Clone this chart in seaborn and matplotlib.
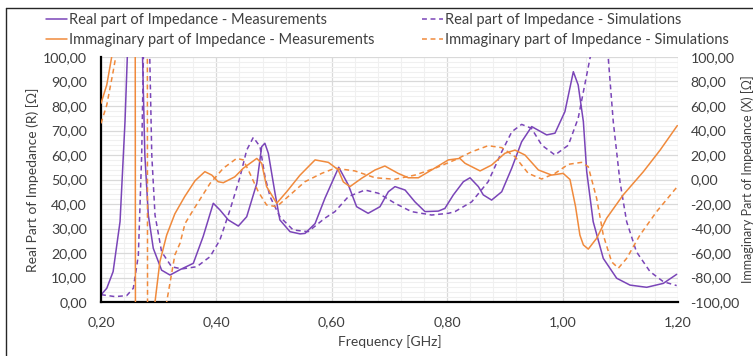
import matplotlib
matplotlib.use("Agg")
import matplotlib.pyplot as plt
from matplotlib.lines import Line2D
from matplotlib.ticker import FuncFormatter, MultipleLocator
import seaborn as sns
import pandas as pd

# ---------------- data ----------------
freq_real_meas = [0.200, 0.210, 0.221, 0.233, 0.2416, 0.2456, 0.250, 0.258, 0.266, 0.272,
                  0.276, 0.282, 0.2906, 0.305, 0.3196, 0.337, 0.360, 0.377, 0.3946, 0.406,
                  0.4206, 0.438, 0.4525, 0.470, 0.4785, 0.484, 0.490, 0.5016, 0.510, 0.5276,
                  0.545, 0.5536, 0.571, 0.588, 0.612, 0.6286, 0.643, 0.663, 0.6835, 0.698,
                  0.7095, 0.727, 0.744, 0.7615, 0.7846, 0.796, 0.8106, 0.828, 0.8395, 0.854,
                  0.8626, 0.877, 0.8945, 0.9118, 0.929, 0.9464, 0.9724, 0.9868, 1.004, 1.0186,
                  1.027, 1.036, 1.0418, 1.053, 1.0705, 1.0937, 1.1168, 1.1457, 1.1745, 1.1977]
real_meas = [2.9, 5.6, 12.4, 32.8, 73.6, 100, 150, 250, 150, 100,
             60, 35.5, 21.9, 13, 11, 13.2, 15.8, 26.7, 40.3, 37.6,
             33.5, 31, 34.8, 48.4, 63.4, 64.8, 60.7, 44.4, 33.5, 28.7,
             27.8, 28, 32, 42.3, 55, 47.8, 38.9, 36.2, 38.9, 45,
             47.1, 45.7, 40.9, 36.9, 37.1, 38.2, 43.7, 49.1, 50.7, 47.1,
             43.7, 41.6, 45, 54.6, 65.4, 71.6, 68.2, 68.9, 77.7, 94,
             88.6, 73.6, 53.2, 32.8, 17.8, 9.7, 6.9, 6, 7.6, 11.3]

freq_real_sim = [0.200, 0.2243, 0.2445, 0.256, 0.2647, 0.2705, 0.2735, 0.279, 0.2845, 0.288,
                 0.2936, 0.305, 0.3223, 0.340, 0.366, 0.389, 0.406, 0.4236, 0.441, 0.4525,
                 0.464, 0.4756, 0.4842, 0.493, 0.510, 0.533, 0.559, 0.588, 0.6055, 0.6286,
                 0.6575, 0.6806, 0.7095, 0.738, 0.773, 0.802, 0.8135, 0.8425, 0.871, 0.8945,
                 0.912, 0.929, 0.946, 0.964, 0.9868, 1.0099, 1.027, 1.036, 1.0475, 1.063,
                 1.079, 1.0878, 1.0995, 1.111, 1.128, 1.1515, 1.1745, 1.1977]
real_sim = [3, 2.2, 2.6, 5.6, 19, 60, 100, 200, 100, 60,
            35.5, 20.5, 14.4, 13.5, 14.4, 18.5, 25.3, 37.6, 51.1, 62,
            67.2, 63.4, 51.1, 43, 34.8, 29.4, 28.7, 34.2, 36.9, 43,
            45.7, 44.4, 40.3, 36.9, 35.5, 36.2, 36.9, 40.9, 49.1, 61.3,
            69.5, 72.5, 70.9, 64, 60, 64, 75, 85.8, 99.5, 118,
            100, 73.6, 49, 32.8, 20.5, 12.4, 8.3, 6.7]

freq_imag_meas = [0.200, 0.210, 0.2185, 0.230, 0.245, 0.2585, 0.2605, 0.275, 0.2936, 0.302,
                  0.3138, 0.328, 0.345, 0.363, 0.380, 0.392, 0.403, 0.412, 0.432, 0.4466,
                  0.470, 0.4785, 0.487, 0.5045, 0.5218, 0.545, 0.571, 0.594, 0.611, 0.620,
                  0.6315, 0.6517, 0.675, 0.692, 0.715, 0.7326, 0.750, 0.773, 0.802, 0.822,
                  0.831, 0.857, 0.877, 0.900, 0.9175, 0.9348, 0.958, 0.981, 1.001, 1.0128,
                  1.0224, 1.030, 1.036, 1.0445, 1.059, 1.0763, 1.105, 1.140, 1.169, 1.1988]
imag_meas = [62.2, 77.2, 100, 150, 260, 600, -600, -250, -100, -67.2,
             -45.4, -28, -14, -1, 6.4, 3.6, -1.8, -2.6, 2.2, 9.2,
             17.2, 13.2, -5.8, -19.4, -10, 3.6, 16, 14, 8, -2,
             -5.8, 1, 7.8, 11, 5, 1.4, 1.4, 7.8, 16, 17.2,
             13.2, 7, 11.8, 21.4, 24, 20, 7.8, 3.6, 5, 0,
             -22, -45.4, -53.4, -56.8, -48, -31.6, -12.6, 6.4, 24, 44]

freq_imag_sim = [0.200, 0.210, 0.221, 0.2255, 0.240, 0.260, 0.2795, 0.2815, 0.297, 0.3138,
                 0.328, 0.337, 0.3456, 0.360, 0.389, 0.412, 0.435, 0.4466, 0.458, 0.4726,
                 0.487, 0.5045, 0.5276, 0.5535, 0.5825, 0.6055, 0.640, 0.675, 0.7095, 0.744,
                 0.779, 0.8135, 0.8425, 0.871, 0.8945, 0.9175, 0.9405, 0.9637, 0.9868, 1.010,
                 1.033, 1.0445, 1.059, 1.0705, 1.085, 1.0966, 1.111, 1.134, 1.163, 1.1988]
imag_sim = [45.8, 60.8, 88, 100, 160, 300, 700, -700, -250, -100,
            -61.6, -52, -36, -24.8, -3.2, 9.2, 17.2, 16, 5, -10,
            -20.8, -22.2, -12.6, -1.8, 5, 9.2, 7, 1.4, 0.2, 3.6,
            9.2, 16, 22.6, 27.6, 26, 18.6, 5, 0.4, 5, 12.4,
            14, 10.4, -15.4, -45.4, -67.2, -72.4, -64.4, -45.4, -26.2, -5.8]

x_ticks = [0.2, 0.4, 0.6, 0.8, 1.0, 1.2]
left_ticks = [0, 10, 20, 30, 40, 50, 60, 70, 80, 90, 100]
right_ticks = [-100, -80, -60, -40, -20, 0, 20, 40, 60, 80, 100]

labels = ["Real part of Impedance - Measurements",
          "Immaginary part of Impedance - Measurements",
          "Real part of Impedance - Simulations",
          "Immaginary part of Impedance - Simulations"]

PURPLE = "#7a45b8"
ORANGE = "#f08a3c"
FONT = ["Lato", "DejaVu Sans"]

sns.set_style("white")
plt.rcParams["font.family"] = FONT

W, H = 753, 356
fig = plt.figure(figsize=(W / 100, H / 100), dpi=100)
L, R, T, B = 101, 678, 57, 302
ax = fig.add_axes([L / W, 1 - B / H, (R - L) / W, (B - T) / H])
ax2 = ax.twinx()

df_rm = pd.DataFrame({"f": freq_real_meas, "v": real_meas})
df_rs = pd.DataFrame({"f": freq_real_sim, "v": real_sim})
df_im = pd.DataFrame({"f": freq_imag_meas, "v": imag_meas})
df_is = pd.DataFrame({"f": freq_imag_sim, "v": imag_sim})

LW = 1.1
DASH = (3.2, 2.4)
sns.lineplot(data=df_rm, x="f", y="v", ax=ax, color=PURPLE, lw=LW, legend=False)
sns.lineplot(data=df_rs, x="f", y="v", ax=ax, color=PURPLE, lw=LW, legend=False)
ax.lines[-1].set_dashes(DASH)
sns.lineplot(data=df_im, x="f", y="v", ax=ax2, color=ORANGE, lw=LW, legend=False)
sns.lineplot(data=df_is, x="f", y="v", ax=ax2, color=ORANGE, lw=LW, legend=False)
ax2.lines[-1].set_dashes(DASH)
for a in (ax, ax2):
    for ln in a.lines:
        ln.set_solid_joinstyle("round")
        ln.set_dash_joinstyle("round")

ax.set_xlim(0.2, 1.2)
ax.set_ylim(0, 100)
ax2.set_ylim(-100, 100)

comma = lambda fmt: FuncFormatter(lambda v, p: (fmt % v).replace(".", ","))
ax.set_xticks(x_ticks)
ax.xaxis.set_major_formatter(comma("%.2f"))
ax.set_yticks(left_ticks)
ax.yaxis.set_major_formatter(comma("%.2f"))
ax2.set_yticks(right_ticks)
ax2.yaxis.set_major_formatter(comma("%.2f"))
ax.xaxis.set_minor_locator(MultipleLocator(0.04))
ax.yaxis.set_minor_locator(MultipleLocator(2))

ax.grid(True, which="major", color="#d9d9d9", lw=0.9)
ax.grid(True, which="minor", color="#f0f0f0", lw=0.8)
ax.set_axisbelow(True)

TICKFS = 10.2
ax.tick_params(axis="both", which="both", length=0, labelsize=TICKFS, colors="#404040")
ax.tick_params(axis="x", pad=10)
ax.tick_params(axis="y", pad=10)
ax2.tick_params(axis="y", length=0, labelsize=TICKFS, colors="#404040", pad=9)

for a in (ax, ax2):
    for s in ("top", "right", "left", "bottom"):
        a.spines[s].set_visible(False)
for s in ("left", "bottom"):
    ax.spines[s].set_visible(True)
    ax.spines[s].set_color("black")
    ax.spines[s].set_linewidth(1.6)

ax.set_xlabel("Frequency [GHz]", fontsize=10, color="#404040", labelpad=5)
ax.set_ylabel("Real Part of Impedance (R) [Ω]", fontsize=10, color="#404040", labelpad=3)
ax2.set_ylabel("Immaginary Part of Impedance (X) [Ω]", fontsize=9, color="#404040",
               labelpad=1)

handles = [Line2D([], [], color=PURPLE, lw=LW),
           Line2D([], [], color=ORANGE, lw=LW),
           Line2D([], [], color=PURPLE, lw=LW, dashes=DASH),
           Line2D([], [], color=ORANGE, lw=LW, dashes=DASH)]
fig.legend(handles, labels, ncol=2, loc="upper left", frameon=False,
           bbox_to_anchor=(46 / W, 1 - 13 / H), borderpad=0, borderaxespad=0,
           handlelength=1.45, handletextpad=0.15, columnspacing=3.2,
           labelspacing=0.42, fontsize=10.5, labelcolor="#404040")

# outer frame (left and top edges visible)
fig.add_artist(Line2D([6.5 / W, 6.5 / W], [0, 1 - 8 / H], color="#262626", lw=1.0,
                      transform=fig.transFigure))
fig.add_artist(Line2D([6.5 / W, 1], [1 - 8 / H, 1 - 8 / H], color="#262626", lw=1.0,
                      transform=fig.transFigure))

fig.savefig("out.png", dpi=100)
